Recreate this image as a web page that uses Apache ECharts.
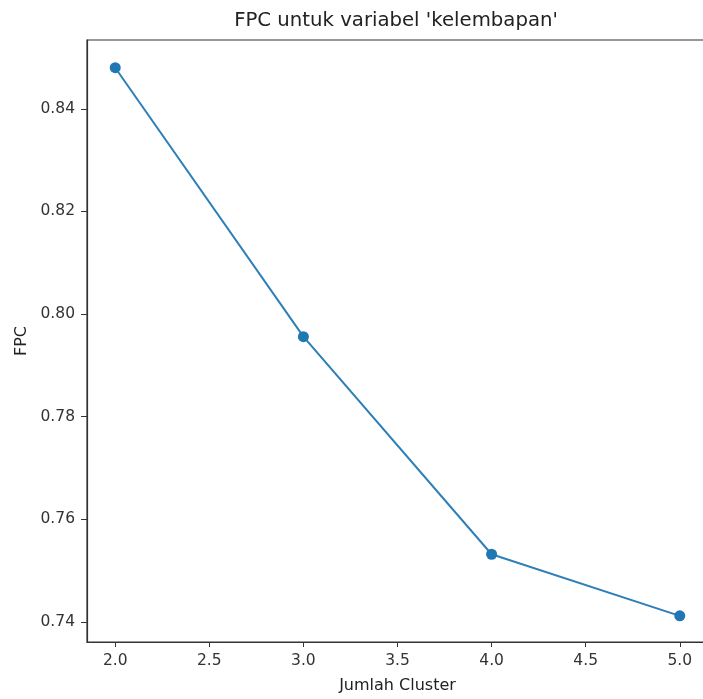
<!DOCTYPE html>
<html>
<head>
<meta charset="utf-8">
<script src="https://cdn.jsdelivr.net/npm/echarts@6/dist/echarts.min.js"></script>
<style>
html,body{margin:0;padding:0;background:#fff;overflow:hidden;}
#chart{width:715px;height:699px;}
</style>
</head>
<body>
<div id="chart"></div>
<script>
const clusters = [2, 3, 4, 5];
const fpcValues = [0.848, 0.7956, 0.7532, 0.7412];
const xTicks = [2.0, 2.5, 3.0, 3.5, 4.0, 4.5, 5.0];
const yTicks = [0.74, 0.76, 0.78, 0.80, 0.82, 0.84];

const chart = echarts.init(document.getElementById('chart'));
const font = 'DejaVu Sans';
chart.setOption({
  animation: false,
  backgroundColor: '#fff',
  title: {
    text: "FPC untuk variabel 'kelembapan'",
    left: 391, top: 6, textAlign: 'center',
    textStyle: {fontFamily: font, fontSize: 19.7, fontWeight: 'normal', color: '#222'}
  },
  grid: {left: 87, top: 40, width: 621, height: 603, show: true, borderColor: '#333', borderWidth: 1.2, backgroundColor: 'transparent'},
  xAxis: {
    type: 'value', min: 1.85, max: 5.15,
    name: 'Jumlah Cluster', nameLocation: 'middle', nameGap: 36,
    nameTextStyle: {fontFamily: font, fontSize: 16, color: '#222'},
    axisLine: {show: true, lineStyle: {color: '#333', width: 1.2}},
    axisTick: {show: true, length: 5, customValues: xTicks, lineStyle: {color: '#333'}},
    axisLabel: {customValues: xTicks, margin: 11, fontFamily: font, fontSize: 15.5, color: '#333',
      formatter: v => v.toFixed(1)},
    splitLine: {show: false}
  },
  yAxis: {
    type: 'value', min: 0.7361, max: 0.8534,
    name: 'FPC', nameLocation: 'middle', nameGap: 57, nameRotate: 90,
    nameTextStyle: {fontFamily: font, fontSize: 16, color: '#222'},
    axisLine: {show: true, lineStyle: {color: '#333', width: 1.2}},
    axisTick: {show: true, length: 6, customValues: yTicks, lineStyle: {color: '#333'}},
    axisLabel: {customValues: yTicks, margin: 12, fontFamily: font, fontSize: 15.5, color: '#333',
      formatter: v => v.toFixed(2)},
    splitLine: {show: false}
  },
  series: [{
    type: 'line',
    data: clusters.map((c, i) => [c, fpcValues[i]]),
    symbol: 'circle', symbolSize: 11,
    lineStyle: {color: '#2d7fb8', width: 2},
    itemStyle: {color: '#1f77b4'}
  }]
});
</script>
</body>
</html>
